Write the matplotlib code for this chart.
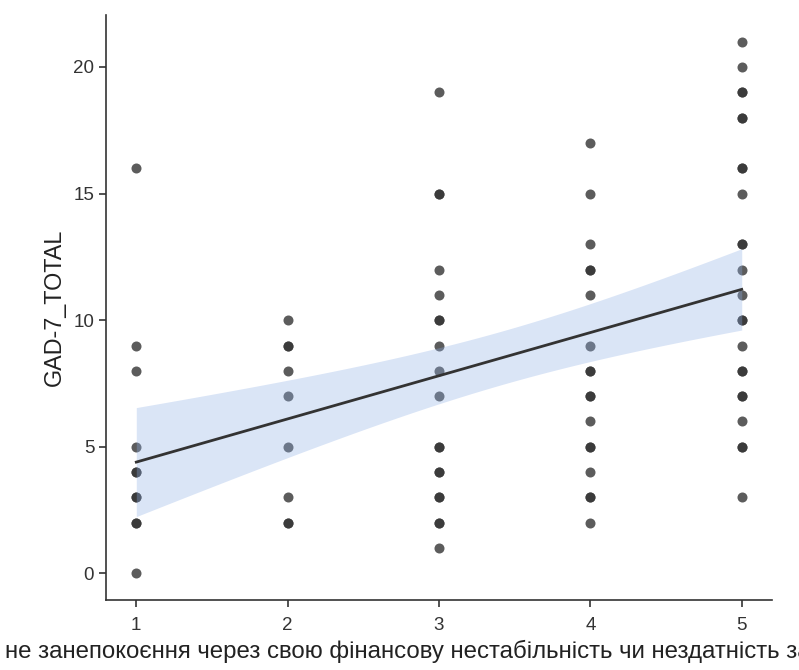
import numpy as np
import matplotlib
matplotlib.use("Agg")
import matplotlib.pyplot as plt

plt.rcParams['font.family'] = ['Liberation Sans', 'DejaVu Sans']

# values: x level -> GAD-7 totals at that level
x_levels = [1, 2, 3, 4, 5]
y_at_1 = [16, 9, 8, 5, 4, 4, 3, 3, 2, 2, 0]
y_at_2 = [10, 9, 9, 8, 7, 5, 3, 2, 2]
y_at_3 = [19, 15, 15, 12, 11, 10, 10, 9, 8, 7, 5, 5, 4, 4, 3, 3, 2, 2, 1]
y_at_4 = [17, 15, 13, 12, 12, 11, 9, 8, 8, 7, 7, 6, 5, 5, 4, 3, 3, 2]
y_at_5 = [21, 20, 19, 19, 18, 18, 16, 16, 15, 13, 13, 12, 11, 10, 10, 9, 8, 8,
          7, 7, 6, 5, 5, 3]

x_label = "не занепокоєння через свою фінансову нестабільність чи нездатність заплатити"
y_label = "GAD-7_TOTAL"

groups = [y_at_1, y_at_2, y_at_3, y_at_4, y_at_5]
x = np.concatenate([[lv] * len(g) for lv, g in zip(x_levels, groups)]).astype(float)
y = np.concatenate(groups).astype(float)

# ordinary least squares fit with 95% confidence band
n = len(x)
xm, ym = x.mean(), y.mean()
sxx = ((x - xm) ** 2).sum()
slope = ((x - xm) * (y - ym)).sum() / sxx
icpt = ym - slope * xm
resid = y - (icpt + slope * x)
s = np.sqrt((resid ** 2).sum() / (n - 2))
t_crit = 1.99  # t(0.975, df~79)

xg = np.linspace(min(x_levels), max(x_levels), 100)
yg = icpt + slope * xg
half = t_crit * s * np.sqrt(1.0 / n + (xg - xm) ** 2 / sxx)

fig = plt.figure(figsize=(7.99, 6.70), dpi=100)
ax = fig.add_axes([0.1327, 0.1045, 0.8335, 0.873])

ax.scatter(x, y, s=52, color='#333333', alpha=0.8, linewidths=0, zorder=2)
ax.plot(xg, yg, color='#333333', lw=2.0, zorder=4)
ax.fill_between(xg, yg - half, yg + half, color='#8fb0e6', alpha=0.33,
                linewidth=0, zorder=3)

ax.set_xticks(x_levels)
ax.set_yticks([0, 5, 10, 15, 20])
ax.margins(x=0.05, y=0.05)

for side in ['top', 'right']:
    ax.spines[side].set_visible(False)
for side in ['left', 'bottom']:
    ax.spines[side].set_color('#333333')
    ax.spines[side].set_linewidth(1.2)
ax.tick_params(axis='both', length=5, width=1.2, color='#333333',
               labelsize=13.5, labelcolor='#333333')
ax.tick_params(axis='x', pad=7)
ax.tick_params(axis='y', pad=3.5)

ax.set_ylabel(y_label, fontsize=16.8, color='#222222', labelpad=5)
ax.set_xlabel(x_label, fontsize=17.3, color='#222222', ha='left')
# the long label runs off the right edge, as in the original figure
ax.xaxis.set_label_coords(-0.151, -0.068)
ax.xaxis.label.set_va('top')

fig.savefig("out.png", dpi=100)
